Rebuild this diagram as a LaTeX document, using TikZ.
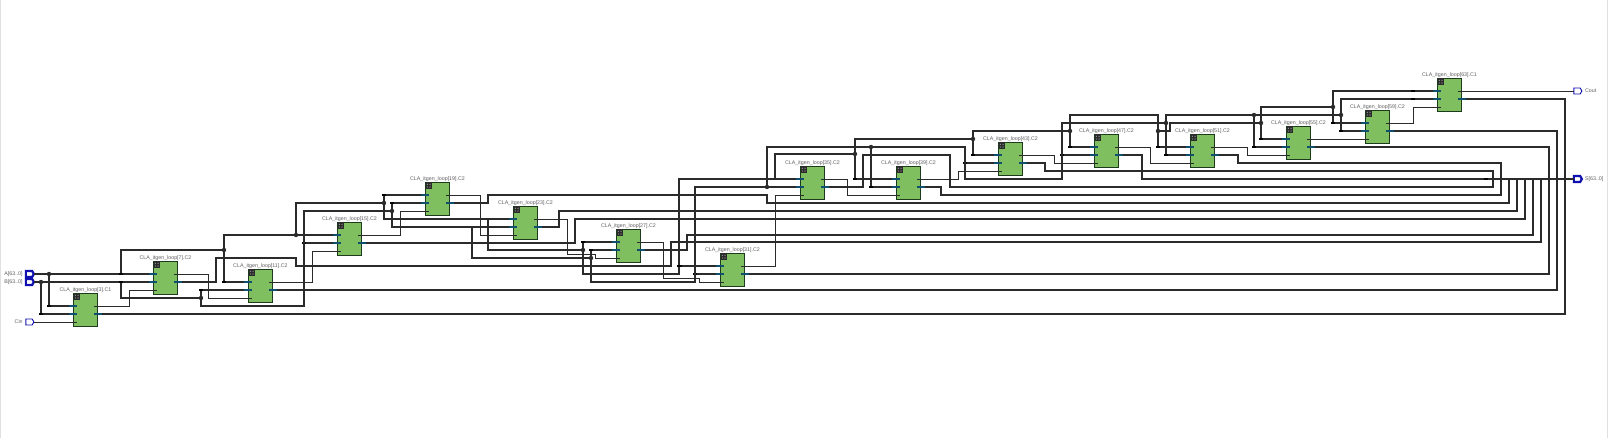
\documentclass[tikz,border=0pt]{standalone}
\usepackage{fontspec}
\setmainfont{Liberation Sans}
\usetikzlibrary{positioning,shapes.symbols}
\definecolor{wire}{HTML}{2B2B2B}
\definecolor{cellgreen}{HTML}{7FBF5F}
\definecolor{celledge}{HTML}{1C3A1C}
\definecolor{porttick}{HTML}{0F4F70}
\definecolor{portblue}{HTML}{1010B0}
\definecolor{celltext}{HTML}{606060}
\tikzstyle{cell}=[draw=celledge,fill=cellgreen,line width=0.9pt,inner sep=0pt,minimum width=24pt,minimum height=33pt,anchor=north west]
\tikzstyle{celllabel}=[text=celltext,inner sep=0pt,font=\fontsize{5.3}{6}\selectfont]
\tikzstyle{iolabel}=[text=celltext,inner sep=0pt,font=\fontsize{5.3}{6}\selectfont]
\tikzstyle{bus}=[draw=wire,line width=1.9pt]
\tikzstyle{net}=[draw=wire,line width=0.8pt]
\tikzstyle{jct}=[fill=wire,inner sep=0pt,outer sep=0pt,minimum size=4.4pt,circle]
\tikzstyle{rip}=[fill=black,inner sep=0pt,outer sep=0pt,minimum width=3.4pt,minimum height=2.6pt]
\tikzstyle{busport}=[draw=portblue,fill=white,line width=2.2pt,outer sep=0pt,signal,signal to=east,inner sep=0pt,minimum width=8pt,minimum height=6pt,signal pointer angle=120]
\tikzstyle{netport}=[busport,line width=0.9pt]

\begin{document}
\begin{tikzpicture}[x=1pt,y=-1pt]
\useasboundingbox (0,0) rectangle (1608,438);
\fill[white] (0,0) rectangle (1608,438);
\draw[black!12,line width=0.8pt] (0.5,0) -- (0.5,438);
\draw[black!12,line width=0.8pt] (1607.5,0) -- (1607.5,438);

% cells and their pins
\foreach \n/\x/\y/\s in {3/73/293/C1,7/153/261/C2,11/248/269/C2,15/337/222/C2,19/425/182/C2,23/513/206/C2,27/616/229/C2,31/720/253/C2,35/800/166/C2,39/896/166/C2,43/998/142/C2,47/1094/134/C2,51/1190/134/C2,55/1286/126/C2,59/1365/110/C2,63/1437/78/C1}{
  \node[cell] (c\n) at (\x,\y) {};
  \node[celllabel,above=0pt of c\n] (l\n) {CLA\_itgen\_loop[\n].\s};
  \coordinate (c\n a) at ([yshift=-13pt]c\n.north west);
  \coordinate (c\n b) at ([yshift=-21pt]c\n.north west);
  \coordinate (c\n c) at ([yshift=-29pt]c\n.north west);
  \coordinate (c\n o) at ([yshift=-13pt]c\n.north east);
  \coordinate (c\n s) at ([yshift=-21pt]c\n.north east);
  \fill[wire] ([shift={(0.5pt,-0.5pt)}]c\n.north west) rectangle ++(6.5,6.5);
  \foreach \i/\j in {2.3/2.3,5/2.3,2.3/5,5/5}
    \fill[black!30] ([shift={(\i pt,-\j pt)}]c\n.north west) circle (0.55pt);
}

% ports
\node[busport] (ain) at (29,274) {};
\node[busport] (bin) at (29,282) {};
\node[netport] (cin) at (29,322) {};
\node[netport] (cout) at (1577,91) {};
\node[busport] (sout) at (1577,179) {};
\node[iolabel,left=3pt of ain] (ainl) {A[63..0]};
\node[iolabel,left=3pt of bin] (binl) {B[63..0]};
\node[iolabel,left=3pt of cin] (cinl) {Cin};
\node[iolabel,right=3pt of cout] (coutl) {Cout};
\node[iolabel,right=3pt of sout] (soutl) {S[63..0]};

% forks on A
\node[jct] (a1) at (49,274) {};
\node[rip] (a2) at (121,274) {};
\node[jct] (a3) at (224,250) {};
\node[jct] (a4) at (296,235) {};
\node[jct] (a5) at (384,203) {};
\node[rip] (a6) at (488,219) {};
\node[jct] (a7) at (583,250) {};
\node[rip] (a8) at (679,266) {};
\node[rip] (a9) at (775,179) {};
\node[jct] (a10) at (855,154) {};
\node[jct] (a11) at (973,139) {};
\node[jct] (a12) at (1070,131) {};
\node[jct] (a13) at (1158,131) {};
\node[jct] (a14) at (1261,123) {};
\node[jct] (a15) at (1333,107) {};
% forks on B
\node[jct] (b1) at (41,282) {};
\node[rip] (b2) at (121,282) {};
\node[jct] (b3) at (201,298) {};
\node[rip] (b4) at (304,243) {};
\node[jct] (b5) at (392,211) {};
\node[rip] (b6) at (472,227) {};
\node[jct] (b7) at (591,258) {};
\node[rip] (b8) at (695,274) {};
\node[jct] (b9) at (767,187) {};
\node[jct] (b10) at (871,147) {};
\node[rip] (b11) at (965,163) {};
\node[rip] (b12) at (1062,155) {};
\node[jct] (b13) at (1166,123) {};
\node[jct] (b14) at (1254,115) {};
\node[jct] (b15) at (1341,115) {};
% taps on S
\node[rip] (r0) at (1486,179) {};
\node[rip] (r1) at (1493,179) {};
\node[rip] (r2) at (1501,179) {};
\node[rip] (r3) at (1509,179) {};
\node[rip] (r4) at (1517,179) {};
\node[rip] (r5) at (1525,179) {};
\node[rip] (r6) at (1533,179) {};
\node[rip] (r7) at (1541,179) {};
\node[rip] (r8) at (1549,179) {};
\node[rip] (r9) at (1557,179) {};
\node[rip] (r10) at (1565,179) {};

% A
\draw[bus] (ain) -- (a1) -- (a2) -- (c7a);
\draw[bus] (a1) |- (c3a);
\draw[bus] (a2) |- (a3);
\draw[bus] (a3) |- (c11a);
\draw[bus] (a3) |- (a4);
\draw[bus] (a4) -- (c15a);
\draw[bus] (a4) |- (a5);
\draw[bus] (a5) |- (c19a);
\draw[bus] (a5) |- (c23a);
\draw[bus] (a6) |- (a7);
\draw[bus] (a7) |- (c27a);
\draw[bus] (a7) |- (679,274) |- (c35a);
\draw[bus] (a8) -- (c31a);
\draw[bus] (a9) |- (a10);
\draw[bus] (a10) |- (c39a);
\draw[bus] (a10) |- (a11);
\draw[bus] (a11) |- (c43a);
\draw[bus] (a11) |- (a12);
\draw[bus] (a12) |- (c47a);
\draw[bus] (a12) |- (1158,115) |- (c51a);
\draw[bus] (a13) -- (1170,131) |- (a14);
\draw[bus] (a14) |- (c55a);
\draw[bus] (a14) |- (a15);
\draw[bus] (a15) |- (c59a);
\draw[bus] (a15) |- (c63a);
% B
\draw[bus] (bin) -- (b1) -- (b2) -- (c7b);
\draw[bus] (b1) |- (c3b);
\draw[bus] (b2) |- (b3);
\draw[bus] (b3) |- (c11b);
\draw[bus] (b3) |- (304,306) |- (b5);
\draw[bus] (b4) -- (c15b);
\draw[bus] (b5) |- (c19b);
\draw[bus] (b5) |- (c23b);
\draw[bus] (b6) |- (b7);
\draw[bus] (b7) |- (c27b);
\draw[bus] (b7) |- (695,282) |- (c35b);
\draw[bus] (b8) -- (c31b);
\draw[bus] (b9) |- (b10);
\draw[bus] (b10) |- (c39b);
\draw[bus] (b10) -| (965,179) -| (1062,123) -- (b13);
\draw[bus] (b11) -- (c43b);
\draw[bus] (b12) -- (c47b);
\draw[bus] (b13) |- (c51b);
\draw[bus] (b13) |- (b14);
\draw[bus] (b14) |- (c55b);
\draw[bus] (b14) -- (b15);
\draw[bus] (b15) |- (c59b);
\draw[bus] (b15) |- (c63b);
% S
\draw[bus] (r0) -- (sout);
\draw[bus] (c3s) -| (r10);
\draw[bus] (c7s) -| (216,258) -| (296,266) -| (671,242) -| (r7);
\draw[bus] (c11s) -| (r9);
\draw[bus] (c15s) -| (575,219) -| (r5);
\draw[bus] (c19s) -| (488,195) -| (767,203) -| (r3);
\draw[bus] (c23s) -| (559,211) -| (r4);
\draw[bus] (c27s) -| (687,235) -| (r6);
\draw[bus] (c31s) -| (r8);
\draw[bus] (c35s) -| (863,155) -| (950,187) -| (r1);
\draw[bus] (c39s) -| (941,195) -| (r2);
\draw[bus] (c43s) -| (1045,171) -| (r1);
\draw[bus] (c47s) -| (1142,179) -- (r0);
\draw[bus] (c51s) -| (1238,163) -| (r2);
\draw[bus] (c55s) -| (r8);
\draw[bus] (c59s) -| (r9);
\draw[bus] (c63s) -| (r10);
% carries
\draw[net] (cin) -- (c3c);
\draw[net] (c3o) -| (129,290) -- (c7c);
\draw[net] (c7o) -| (208,298) -- (c11c);
\draw[net] (c11o) -| (312,251) -- (c15c);
\draw[net] (c15o) -| (400,211) -- (c19c);
\draw[net] (c19o) -| (480,235) -- (c23c);
\draw[net] (c23o) -| (567,254) -| (595,258) -- (c27c);
\draw[net] (c27o) -| (663,278) -| (699,282) -- (c31c);
\draw[net] (c31o) -| (775,195) -- (c35c);
\draw[net] (c35o) -| (847,195) -- (c39c);
\draw[net] (c39o) -| (958,171) -- (c43c);
\draw[net] (c43o) -| (1054,163) -- (c47c);
\draw[net] (c47o) -| (1150,163) -- (c51c);
\draw[net] (c51o) -| (1247,155) -- (c55c);
\draw[net] (c55o) -- (c59c);
\draw[net] (c59o) -| (1413,107) -- (c63c);
\draw[net] (c63o) -- (cout);

% pin ticks, on top of the wires
\foreach \n in {3,7,11,15,19,23,27,31,35,39,43,47,51,55,59,63}{
  \draw[porttick,line width=1.5pt] ([xshift=-4pt]c\n a) -- ([xshift=4pt]c\n a);
  \draw[porttick,line width=1.5pt] ([xshift=-4pt]c\n b) -- ([xshift=4pt]c\n b);
  \draw[wire,line width=0.8pt] (c\n c) -- ([xshift=4pt]c\n c);
  \draw[wire,line width=0.8pt] ([xshift=-4pt]c\n o) -- ([xshift=4pt]c\n o);
  \draw[porttick,line width=1.5pt] ([xshift=-4pt]c\n s) -- ([xshift=4pt]c\n s);
}
% small taps where a bus meets a pin
\foreach \p [count=\k] in {(49,306),(41,314),(201,290),(224,282),(384,195),(392,203),(583,242),(591,250),(855,179),(871,187),(973,155),(1070,147),(1158,147),(1166,155),(1254,147),(1261,139),(1333,123),(1341,131),(1413,91),(1413,99),(680,266)}
  \node[rip] (t\k) at \p {};
\end{tikzpicture}
\end{document}
